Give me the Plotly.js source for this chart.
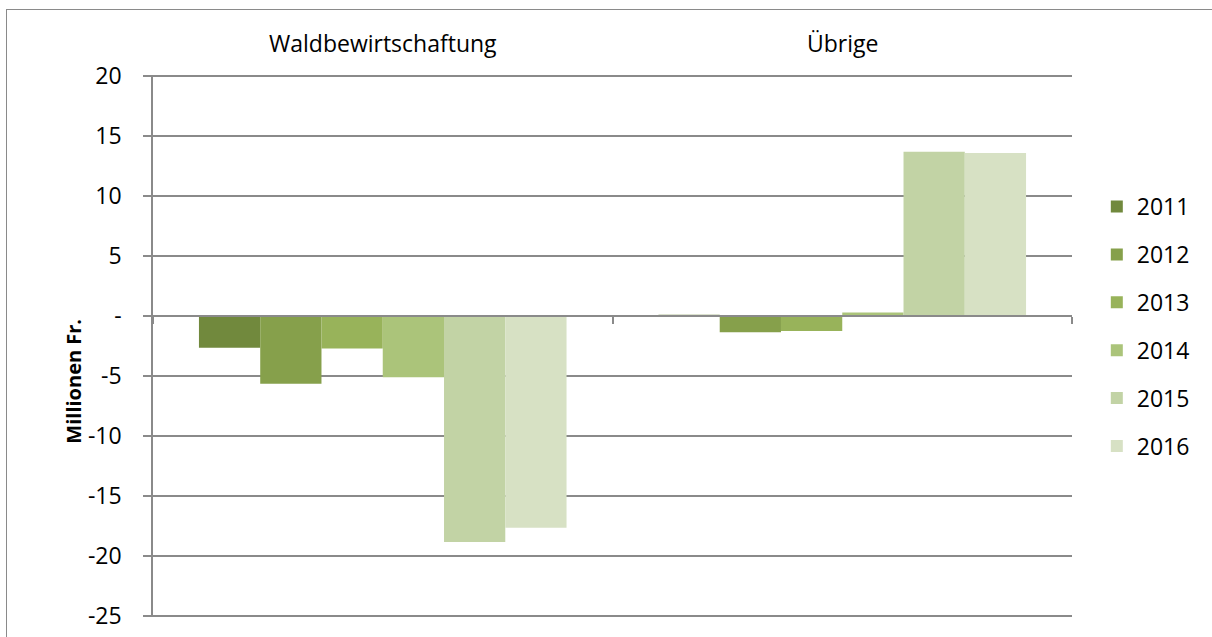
<!DOCTYPE html>
<html>
<head>
<meta charset="utf-8">
<script src="https://cdn.plot.ly/plotly-3.0.1.min.js"></script>
<style>
    html, body { margin: 0; padding: 0; background: #fff; }
    #frame {
        position: absolute; left: 6px; top: 9px; width: 1260px; height: 700px;
        border: 1.5px solid #8a8a8a; pointer-events: none;
    }
    #chart { position: absolute; left: 0; top: 0; width: 1212px; height: 637px; }
</style>
</head>
<body>
<div id="chart"></div>
<div id="frame"></div>
<script>
// categories and yearly values (Millionen Fr.)
const categories = ['Waldbewirtschaftung', 'Übrige'];
const years = ['2011', '2012', '2013', '2014', '2015', '2016'];
const v2011 = [-2.65, 0.1];
const v2012 = [-5.65, -1.35];
const v2013 = [-2.7, -1.25];
const v2014 = [-5.1, 0.3];
const v2015 = [-18.85, 13.7];
const v2016 = [-17.65, 13.6];
const yearColors = ['#71893d', '#86a04b', '#98b35a', '#abc47a', '#c2d3a5', '#d7e1c4'];

// y axis ticks, zero shown as a dash
const yTicks = [20, 15, 10, 5, 0, -5, -10, -15, -20, -25];
const yTickText = ['20', '15', '10', '5', '-', '-5', '-10', '-15', '-20', '-25'];

const series = [v2011, v2012, v2013, v2014, v2015, v2016];
const gray = '#8a8a8a';
const font = 'Open Sans, Lato, sans-serif';
const fs = 23;

// range padded a hair so the 20 and -25 grid lines are not clipped
const yRange = [-25.1, 20.1];

let traces = [];
for (let i = 0; i < years.length; i++) {
    traces.push({
        type: 'bar',
        name: years[i],
        x: categories,
        y: series[i],
        legendgroup: years[i],
        marker: { color: yearColors[i], line: { width: 0 } },
        hoverinfo: 'x+y+name'
    });
}

// category names sit above the plot (Excel "high" label position)
let catLabels = categories.map(c => ({
    text: c,
    xref: 'x', yref: 'paper',
    x: c, y: 1,
    xanchor: 'center', yanchor: 'bottom',
    yshift: 14,
    showarrow: false,
    font: { family: font, size: fs, color: '#000' }
}));

let yTitle = {
    text: '<b>Millionen Fr.</b>',
    textangle: -90,
    xref: 'paper', yref: 'paper',
    x: (73 - 152.5) / 919.5, y: (616 - 381) / 540,
    xanchor: 'center', yanchor: 'middle',
    showarrow: false,
    font: { family: font, size: 20, color: '#000' }
};

let layout = {
    width: 1212,
    height: 637,
    margin: { l: 152.5, r: 140, t: 75, b: 20 },
    paper_bgcolor: 'rgba(0,0,0,0)',
    plot_bgcolor: 'rgba(0,0,0,0)',
    font: { family: font, size: fs, color: '#000' },
    barmode: 'group',
    bargap: 0.2,
    bargroupgap: 0,
    xaxis: {
        type: 'category',
        anchor: 'free',
        position: -yRange[0] / (yRange[1] - yRange[0]),   // axis line along y = 0
        tickson: 'boundaries',
        ticks: 'outside',
        ticklen: 7,
        tickwidth: 1.5,
        tickcolor: gray,
        showticklabels: false,
        showline: true,
        linecolor: gray,
        linewidth: 1.5,
        showgrid: false,
        zeroline: false
    },
    yaxis: {
        range: yRange,
        tickvals: yTicks,
        ticktext: yTickText,
        ticks: 'outside',
        ticklen: 8,
        tickwidth: 1.5,
        tickcolor: gray,
        ticklabelstandoff: 17,
        showline: true,
        linecolor: gray,
        linewidth: 1.5,
        showgrid: true,
        gridcolor: gray,
        gridwidth: 1.5,
        zeroline: false,
        tickfont: { family: font, size: fs, color: '#000' }
    },
    showlegend: true,
    legend: {
        x: 1.027,
        xanchor: 'left',
        y: 0.797,
        yanchor: 'top',
        traceorder: 'grouped',
        tracegroupgap: 15,
        font: { family: font, size: fs, color: '#000' },
        bgcolor: 'rgba(0,0,0,0)'
    },
    annotations: catLabels.concat([yTitle])
};

Plotly.newPlot('chart', traces, layout, { displayModeBar: false });
</script>
</body>
</html>
